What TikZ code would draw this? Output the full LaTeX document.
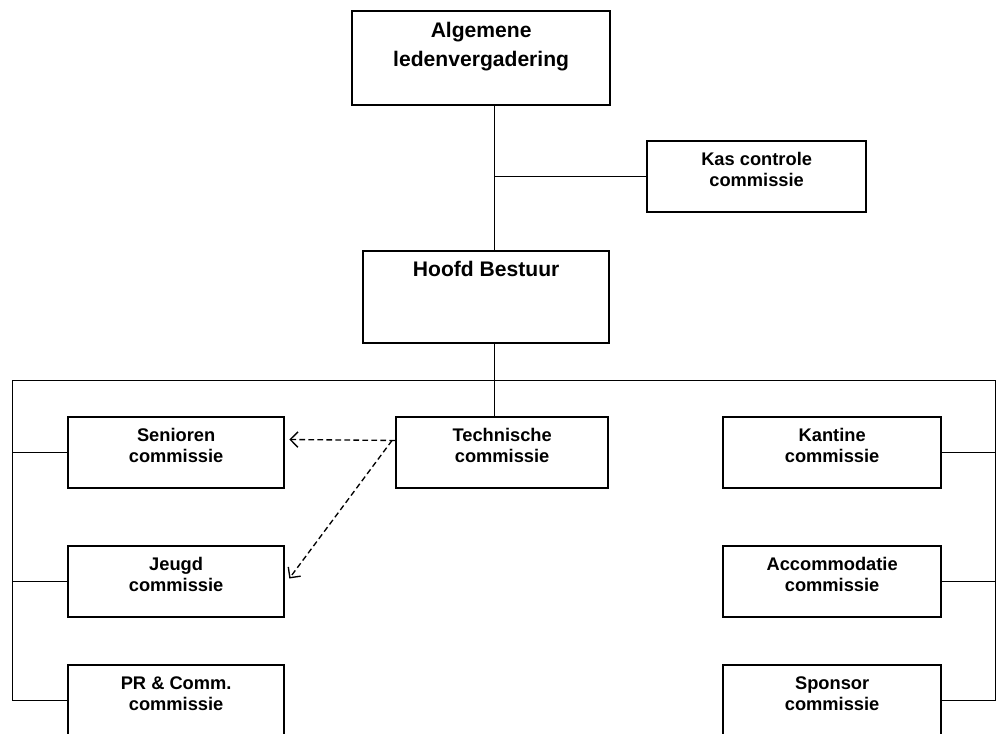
\documentclass[tikz,border=0pt]{standalone}
\usepackage{fontspec}
\setmainfont{Liberation Sans}
\usetikzlibrary{calc, arrows.meta, positioning}

\begin{document}
\begin{tikzpicture}[x=0.025cm, y=-0.025cm,
    orgbox/.style={draw, line width=1.6pt, anchor=north west, align=center, inner sep=0pt,
      font=\bfseries\fontsize{13}{15.6}\selectfont, minimum width=5.4cm,
      text height=32.6pt, text depth=17.7pt},
    bigbox/.style={orgbox, font=\bfseries\fontsize{15}{21.3}\selectfont},
    link/.style={line width=0.7pt},
    dashlink/.style={line width=0.95pt, dash pattern=on 4pt off 2.4pt,
      -{Straight Barb[length=5.5pt,width=11pt]}}]
  \useasboundingbox (0,0) rectangle (996,733);
  % top of the organisation
  \node[bigbox, minimum width=6.45cm, text height=39.7pt, text depth=26.9pt] (alv) at (351,10) {Algemene\\ledenvergadering};
  \node[orgbox, minimum width=5.475cm] (kas) at (646,140) {Kas controle\\commissie};
  \node[bigbox, minimum width=6.15cm, text height=17.7pt, text depth=47.5pt] (hb) at (362,250) {Hoofd Bestuur};
  % commissies
  \node[orgbox, minimum width=5.3cm] (tech) at (395,416) {Technische\\commissie};
  \node[orgbox] (sen) at (67,416) {Senioren\\commissie};
  \node[orgbox] (jeugd) at (67,545) {Jeugd\\commissie};
  \node[orgbox] (pr) at (67,664) {PR \& Comm.\\commissie};
  \node[orgbox, minimum width=5.45cm] (kantine) at (722,416) {Kantine\\commissie};
  \node[orgbox, minimum width=5.45cm] (acc) at (722,545) {Accommodatie\\commissie};
  \node[orgbox, minimum width=5.45cm] (sponsor) at (722,664) {Sponsor\\commissie};
  % lines
  \coordinate (spine) at (494,380);
  \coordinate (busL) at (12,380);
  \coordinate (busR) at (995,380);
  \draw[link] (alv.south -| spine) -- (hb.north -| spine);
  \draw[link] (kas.west) -- (kas.west -| spine);
  \draw[link] (hb.south -| spine) -- (tech.north -| spine);
  \draw[link] (pr.west) -| (busL) -- (busR) |- (sponsor.east);
  \draw[link] (sen.west) -- (sen.west -| busL);
  \draw[link] (jeugd.west) -- (jeugd.west -| busL);
  \draw[link] (kantine.east) -- (kantine.east -| busR);
  \draw[link] (acc.east) -- (acc.east -| busR);
  \draw[dashlink] ($(tech.west)+(0,-12)$) -- ($(sen.east)+(4,-13)$);
  \draw[dashlink] ($(tech.west)+(-3,-12)$) -- ($(jeugd.east)+(4,-3)$);
\end{tikzpicture}
\end{document}
